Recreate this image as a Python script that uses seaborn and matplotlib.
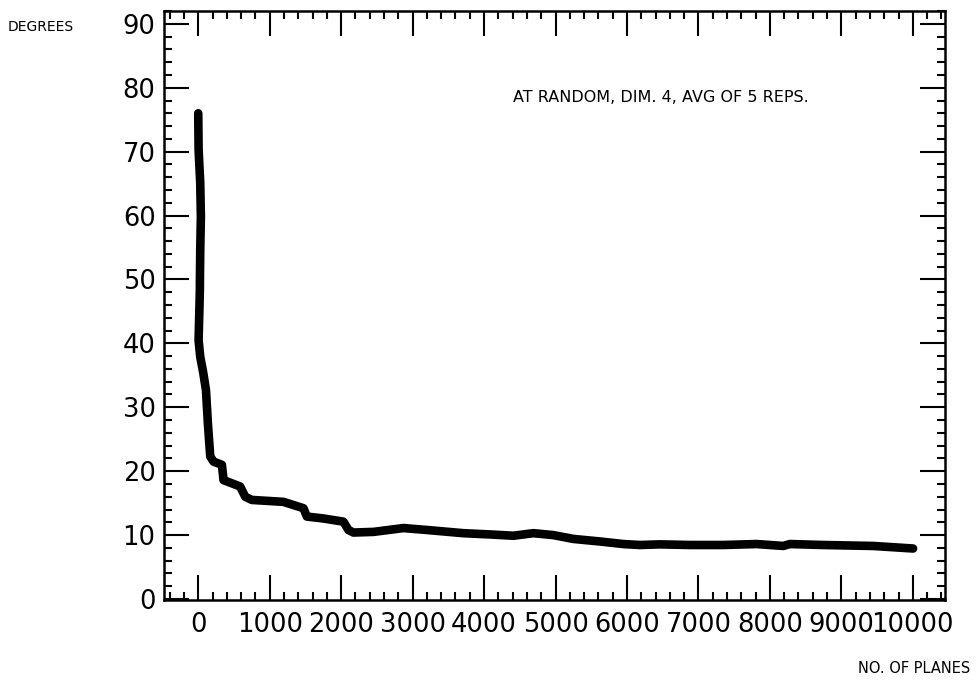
import numpy as np
import pandas as pd
import matplotlib
matplotlib.use('Agg')
import matplotlib.pyplot as plt
from matplotlib.ticker import MultipleLocator
import seaborn as sns

# values (no. of planes vs. degrees), in pen order
planes = [0, 5, 28, 37, 28, 23, 23, 5, 28, 70, 108, 135, 168, 214, 331, 354, 401,
          587, 657, 751, 1193, 1333, 1473, 1520, 1752, 2032, 2102, 2172, 2452,
          2871, 3199, 3710, 4084, 4410, 4690, 4969, 5249, 5622, 5948, 6182, 6462,
          6881, 7347, 7814, 8186, 8280, 8745, 9445, 10004]
degrees = [76.0, 70.3, 65.1, 59.8, 54.6, 49.4, 48.4, 40.5, 37.9, 35.4, 32.7, 27.5,
           22.3, 21.5, 21.0, 18.6, 18.4, 17.6, 16.0, 15.5, 15.2, 14.7, 14.2, 12.9,
           12.6, 12.1, 10.8, 10.4, 10.5, 11.1, 10.8, 10.3, 10.1, 9.9, 10.3, 10.0,
           9.4, 9.0, 8.6, 8.45, 8.55, 8.45, 8.45, 8.6, 8.3, 8.6, 8.45, 8.3, 7.9]

x_ticks = list(range(0, 10001, 1000))
y_ticks = list(range(0, 91, 10))
annotation = 'AT RANDOM, DIM. 4, AVG OF 5 REPS.'

df = pd.DataFrame({'planes': planes, 'degrees': degrees})

sns.set_style('ticks')
plt.rcParams['font.family'] = ['DejaVu Sans']

fig = plt.figure(figsize=(9.77, 6.81), dpi=100)
ax = fig.add_axes([0.1678, 0.119, 0.7994, 0.8648])

sns.lineplot(data=df, x='planes', y='degrees', sort=False, estimator=None,
             color='black', linewidth=6.2, solid_capstyle='round',
             solid_joinstyle='round', ax=ax)

ax.set_xlim(-480, 10450)
ax.set_ylim(-0.15, 92)
ax.set_xticks(x_ticks)
ax.set_yticks(y_ticks)
ax.xaxis.set_minor_locator(MultipleLocator(200))
ax.yaxis.set_minor_locator(MultipleLocator(2))
ax.tick_params(which='both', direction='in', top=True, right=True,
               width=1.5, color='black', labelcolor='black', labelsize=18.5)
ax.tick_params(which='major', length=18, pad=6)
ax.tick_params(which='minor', length=6)
ax.tick_params(axis='x', which='major', pad=9)
ax.set_xlabel('')
ax.set_ylabel('')
for s in ax.spines.values():
    s.set_linewidth(1.8)
    s.set_color('black')

ax.text(4406, 78.4, annotation, fontsize=11.5, color='black', va='center', ha='left')
fig.text(0.008, 0.960, 'DEGREES', fontsize=10, color='black', va='center', ha='left')
fig.text(0.993, 0.019, 'NO. OF PLANES', fontsize=10.5, color='black', va='center', ha='right')

fig.savefig('out.png', dpi=100)
